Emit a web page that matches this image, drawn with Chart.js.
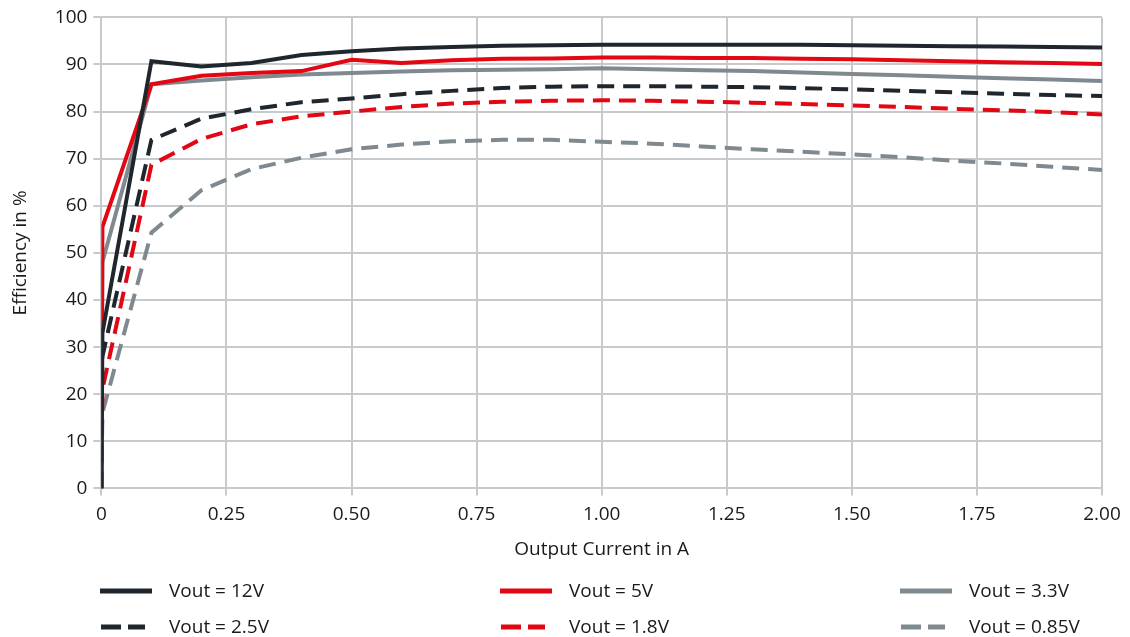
<!DOCTYPE html>
<html>
<head>
<meta charset="utf-8">
<script src="https://cdn.jsdelivr.net/npm/chart.js@4"></script>
<style>
  html, body { margin: 0; padding: 0; background: #fff; }
  #wrap { position: relative; width: 1130px; height: 637px; }
</style>
</head>
<body>
<div id="wrap"><canvas id="chartCanvas"></canvas></div>
<script>
// output current in A
const current = [0, 0.002, 0.1, 0.2, 0.3, 0.4, 0.5, 0.6, 0.7, 0.8, 0.9, 1.0,
                 1.1, 1.2, 1.3, 1.4, 1.5, 1.6, 1.7, 1.8, 1.9, 2.0];

// efficiency in %
const eff12V  = [0, 33, 90.7, 89.6, 90.3, 92.0, 92.8, 93.4, 93.7, 94.0, 94.1, 94.2,
                 94.2, 94.2, 94.2, 94.2, 94.1, 94.0, 93.9, 93.8, 93.7, 93.6];
const eff5V   = [0, 55.5, 85.8, 87.6, 88.2, 88.6, 91.0, 90.3, 90.9, 91.2, 91.3, 91.5,
                 91.5, 91.4, 91.4, 91.2, 91.1, 90.9, 90.7, 90.5, 90.3, 90.1];
const eff3V3  = [0, 48, 85.8, 86.6, 87.3, 87.9, 88.2, 88.5, 88.8, 88.9, 89.0, 89.2,
                 89.0, 88.8, 88.6, 88.3, 88.0, 87.7, 87.4, 87.1, 86.8, 86.5];
const eff2V5  = [0, 28, 74.0, 78.5, 80.5, 82.0, 82.8, 83.7, 84.4, 85.0, 85.3, 85.4,
                 85.4, 85.3, 85.2, 85.0, 84.7, 84.4, 84.1, 83.8, 83.5, 83.3];
const eff1V8  = [0, 21, 68.7, 74.2, 77.3, 79.0, 80.0, 81.0, 81.7, 82.1, 82.3, 82.4,
                 82.3, 82.1, 81.9, 81.6, 81.3, 81.0, 80.6, 80.3, 79.9, 79.4];
const eff0V85 = [0, 16, 54.3, 63.3, 67.8, 70.2, 72.0, 73.0, 73.7, 74.0, 74.0, 73.6,
                 73.2, 72.6, 72.0, 71.5, 70.9, 70.3, 69.6, 69.0, 68.3, 67.6];

const seriesLabels = ["Vout = 12V", "Vout = 5V", "Vout = 3.3V",
                      "Vout = 2.5V", "Vout = 1.8V", "Vout = 0.85V"];
const xTicks = [0, 0.25, 0.5, 0.75, 1.0, 1.25, 1.5, 1.75, 2.0];

const BLACK = "#1f262d";
const RED = "#e30613";
const GREY = "#7f8990";
const GRID = "#c6cacc";
const DASH = [17, 9];
const FONT = "'Open Sans', sans-serif";

function series(label, values, color, dashed) {
    return {
        label,
        data: current.map((x, i) => ({ x, y: values[i] })),
        borderColor: color,
        backgroundColor: color,
        borderWidth: 4,
        borderDash: dashed ? DASH : [],
        pointRadius: 0,
        tension: 0,
        fill: false
    };
}

const datasets = [
    series(seriesLabels[0], eff12V, BLACK, false),
    series(seriesLabels[1], eff5V, RED, false),
    series(seriesLabels[2], eff3V3, GREY, false),
    series(seriesLabels[3], eff2V5, BLACK, true),
    series(seriesLabels[4], eff1V8, RED, true),
    series(seriesLabels[5], eff0V85, GREY, true)
];
datasets.forEach((d, i) => d.order = i);

// legend drawn in canvas, 3 columns x 2 rows
const legendPlugin = {
    id: "gridLegend",
    afterDraw(chart) {
        const ctx = chart.ctx;
        const colX = [100, 500, 900];
        const rowY = [591, 627];
        ctx.save();
        chart.data.datasets.forEach((d, i) => {
            const x = colX[i % 3];
            const y = rowY[Math.floor(i / 3)];
            ctx.strokeStyle = d.borderColor;
            ctx.lineWidth = 5;
            ctx.beginPath();
            if (d.borderDash.length) {
                ctx.moveTo(x + 1, y); ctx.lineTo(x + 21, y);
                ctx.moveTo(x + 28, y); ctx.lineTo(x + 45, y);
            } else {
                ctx.moveTo(x, y); ctx.lineTo(x + 52, y);
            }
            ctx.stroke();
            ctx.fillStyle = "#1a1a1a";
            ctx.font = "19px " + FONT;
            ctx.textBaseline = "middle";
            ctx.fillText(d.label, x + 69, y + 1);
        });
        ctx.restore();
    }
};

new Chart(document.getElementById("chartCanvas"), {
    type: "line",
    data: { datasets },
    plugins: [legendPlugin],
    options: {
        responsive: true,
        maintainAspectRatio: false,
        animation: false,
        layout: { padding: { top: 17, right: 28, bottom: 76, left: 9 } },
        plugins: {
            legend: { display: false },
            tooltip: { enabled: false }
        },
        scales: {
            x: {
                type: "linear",
                min: 0,
                max: 2,
                afterBuildTicks: axis => { axis.ticks = xTicks.map(v => ({ value: v })); },
                ticks: {
                    color: "#1a1a1a",
                    font: { family: FONT, size: 19 },
                    padding: 8,
                    maxRotation: 0,
                    callback: v => v === 0 ? "0" : v.toFixed(2)
                },
                grid: { color: GRID, lineWidth: 2, tickLength: 7 },
                border: { color: GRID, width: 2 },
                title: {
                    display: true,
                    text: "Output Current in A",
                    color: "#1a1a1a",
                    font: { family: FONT, size: 19 },
                    padding: { top: 4, bottom: 0 }
                }
            },
            y: {
                min: 0,
                max: 100,
                ticks: {
                    stepSize: 10,
                    color: "#1a1a1a",
                    font: { family: FONT, size: 19 },
                    padding: 6
                },
                grid: { color: GRID, lineWidth: 2, tickLength: 8 },
                border: { color: GRID, width: 2 },
                title: {
                    display: true,
                    text: "Efficiency in %",
                    color: "#1a1a1a",
                    font: { family: FONT, size: 19 },
                    padding: { top: 0, bottom: 17 }
                }
            }
        }
    }
});
</script>
</body>
</html>
